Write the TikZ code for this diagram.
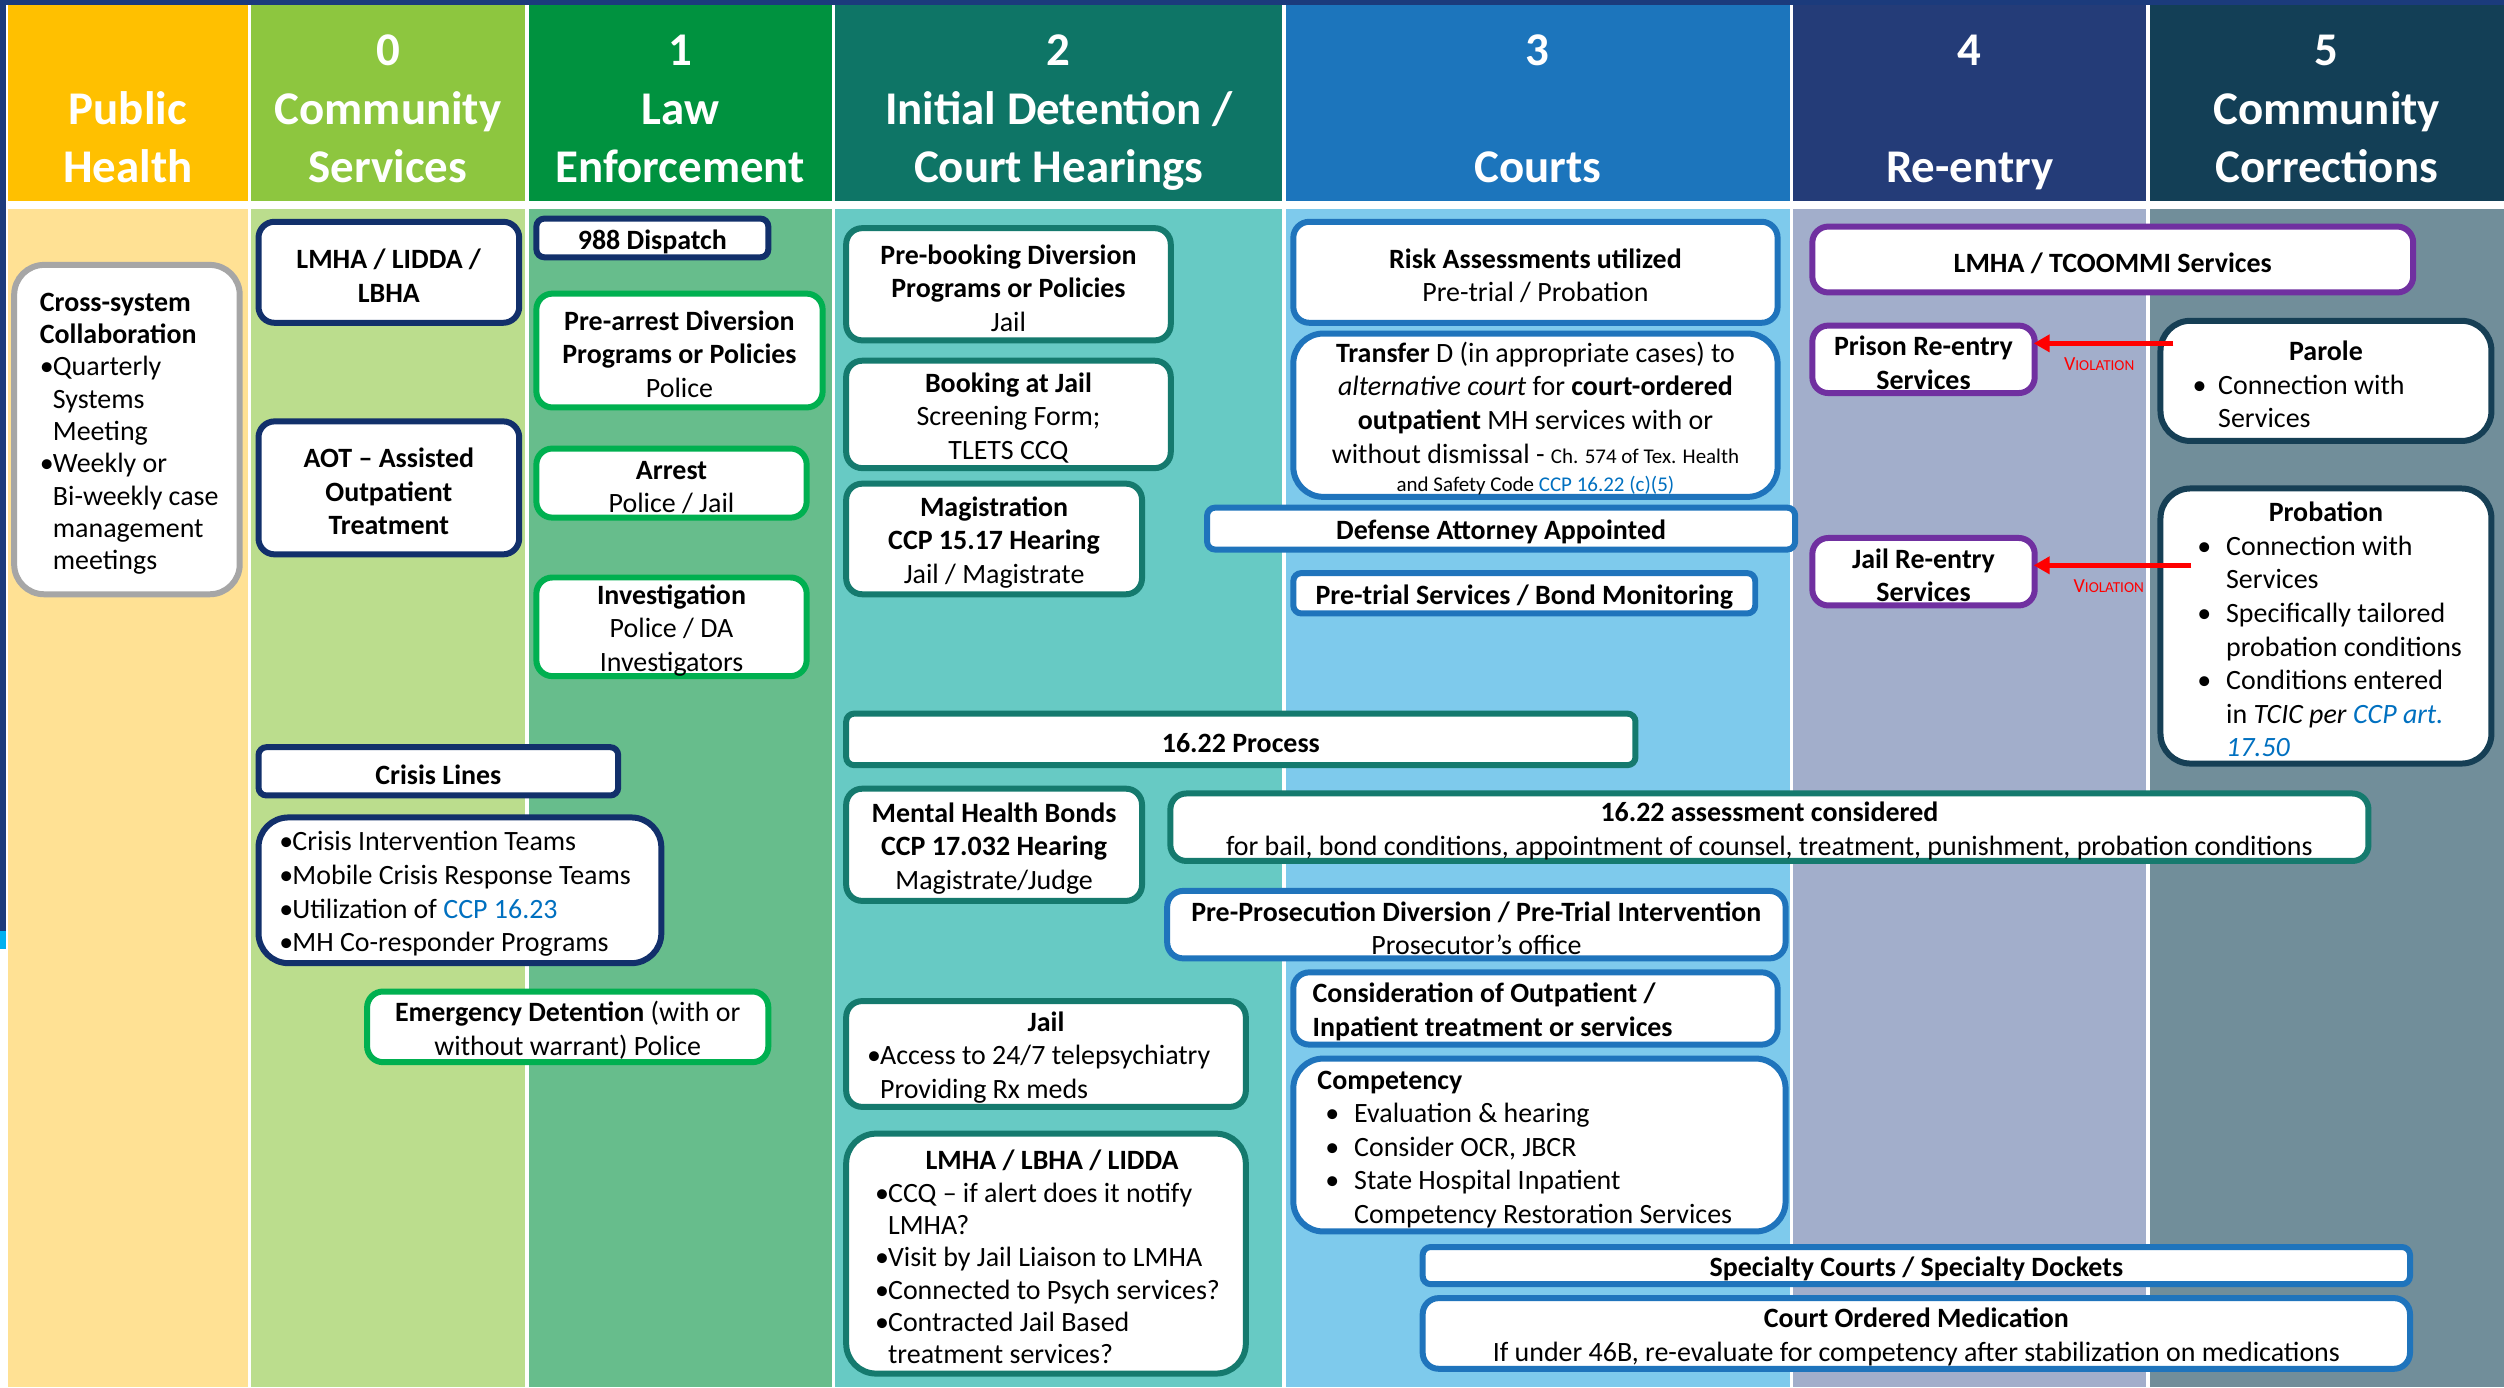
\documentclass[tikz,border=0pt]{standalone}
\usepackage{fontspec}
\setmainfont{Carlito}
\usetikzlibrary{arrows.meta}
\definecolor{hPH}{HTML}{FFC000}
\definecolor{hCa}{HTML}{8DC63F}
\definecolor{hCb}{HTML}{00923F}
\definecolor{hCc}{HTML}{0E7566}
\definecolor{hCd}{HTML}{1C75BC}
\definecolor{hCe}{HTML}{243C78}
\definecolor{hCf}{HTML}{133F56}
\definecolor{bPH}{HTML}{FFE194}
\definecolor{bCa}{HTML}{BBDD8D}
\definecolor{bCb}{HTML}{67BD8C}
\definecolor{bCc}{HTML}{67CAC4}
\definecolor{bCd}{HTML}{7ECAEC}
\definecolor{bCe}{HTML}{A2AECB}
\definecolor{bCf}{HTML}{718E9A}
\definecolor{eNavy}{HTML}{12306B}
\definecolor{eGreen}{HTML}{00B050}
\definecolor{eTeal}{HTML}{157A6E}
\definecolor{eBlue}{HTML}{1F74BC}
\definecolor{ePurple}{HTML}{7030A0}
\definecolor{eSlate}{HTML}{163F55}
\definecolor{eGray}{HTML}{A6A6A6}
\definecolor{linkc}{HTML}{0070C0}
\definecolor{topNavy}{HTML}{1B3B7C}
\definecolor{edgeBlue}{HTML}{00B0F0}
\newcommand\Ln[1]{\mbox{#1}}
\newcommand\bl[1]{\makebox[#1][l]{•}}
\newcommand\Ctr[1]{\makebox[\hsize][c]{#1}}
\newcommand\bx[7]{%
  \pgfmathsetmacro\bxW{(#4-#2)*0.8-3}%
  \pgfmathsetmacro\bxH{(#5-#3)*0.8-3}%
  \node[box,#6,minimum width=\bxW pt,minimum height=\bxH pt] (#1) at ({(#2+#4)/2},{(#3+#5)/2}) {\rule{0pt}{13.4pt}#7};}
\newcommand\bxl[8]{%
  \pgfmathsetmacro\bxW{(#4-#2)*0.8-3}%
  \pgfmathsetmacro\bxH{(#5-#3)*0.8-3}%
  \pgfmathsetmacro\bxT{(#4-#2-2*#7)*0.8}%
  \node[box,#6,align=flush left,text width=\bxT pt,minimum width=\bxW pt,minimum height=\bxH pt] (#1) at ({(#2+#4)/2},{(#3+#5)/2}) {\rule{0pt}{13.4pt}#8};}
\begin{document}
\begin{tikzpicture}[x=0.8pt,y=-0.8pt,
  box/.style={draw,fill=white,line width=3pt,inner sep=0pt,align=center,rounded corners=8pt,
    font=\fontsize{14}{16.8}\selectfont},
  rsmall/.style={rounded corners=4pt},
  rbig/.style={rounded corners=15pt},
  navyb/.style={draw=eNavy},
  greenb/.style={draw=eGreen},
  tealb/.style={draw=eTeal},
  blueb/.style={draw=eBlue},
  purpleb/.style={draw=ePurple},
  slateb/.style={draw=eSlate},
  grayb/.style={draw=eGray},
  tight/.style={font=\fontsize{14}{16.2}\selectfont},
  htext/.style={text=white,align=center,inner sep=0pt,font=\fontsize{23.5}{29.2}\selectfont\bfseries},
  viol/.style={draw=red,line width=2.2pt,-{Triangle[length=8pt,width=8.5pt]},shorten >=-2pt},
  violtext/.style={text=red,inner sep=0pt}]
\useasboundingbox (0,0) rectangle (1568,868.6);
\fill[white] (0,0) rectangle (1568,868.6);
% top and left edges
\fill[topNavy] (0,0) rectangle (1568,3);
\fill[topNavy] (0,0) rectangle (3.5,583);
\fill[edgeBlue] (0,583) rectangle (3.5,594);
% header fills
\fill[hPH] (5,3) rectangle (155,126);
\fill[hCa] (157,3) rectangle (329,126);
\fill[hCb] (331,3) rectangle (521,126);
\fill[hCc] (523,3) rectangle (803,126);
\fill[hCd] (805,3) rectangle (1121,126);
\fill[hCe] (1123,3) rectangle (1344,126);
\fill[hCf] (1346,3) rectangle (1568,126);
% body fills
\fill[bPH] (5,131) rectangle (155,868.6);
\fill[bCa] (157,131) rectangle (329,868.6);
\fill[bCb] (331,131) rectangle (521,868.6);
\fill[bCc] (523,131) rectangle (803,868.6);
\fill[bCd] (805,131) rectangle (1121,868.6);
\fill[bCe] (1123,131) rectangle (1344,868.6);
\fill[bCf] (1346,131) rectangle (1568,868.6);
% header texts
\node[htext] (hph) at (80,70.5) {\strut\\\strut Public\\\strut Health};
\node[htext] (hza) at (243,70.5) {\strut 0\\\strut Community\\\strut Services};
\node[htext] (hzb) at (426,70.5) {\strut 1\\\strut Law\\\strut Enforcement};
\node[htext] (hzc) at (663,70.5) {\strut 2\\\strut Initial Detention /\\\strut Court Hearings};
\node[htext] (hzd) at (963,70.5) {\strut 3\\\strut\\\strut Courts};
\node[htext] (hze) at (1233.5,70.5) {\strut 4\\\strut\\\strut Re-entry};
\node[htext] (hzf) at (1457,70.5) {\strut 5\\\strut Community\\\strut Corrections};
% Public Health
\bxl{cross}{7}{164}{152}{374}{grayb,rbig,tight}{18}{\Ln{\textbf{Cross-system}}\\\Ln{\textbf{Collaboration}}\\\Ln{\bl{6.5pt}Quarterly}\\\Ln{\hspace*{6.5pt}Systems}\\\Ln{\hspace*{6.5pt}Meeting}\\\Ln{\bl{6.5pt}Weekly or}\\\Ln{\hspace*{6.5pt}Bi-weekly case}\\\Ln{\hspace*{6.5pt}management}\\\Ln{\hspace*{6.5pt}meetings}}
% Column 0
\bx{lmhaz}{160}{137}{327}{204}{navyb}{\textbf{LMHA / LIDDA /}\\\textbf{LBHA}}
\bx{aot}{160}{262}{327}{349}{navyb}{\textbf{AOT – Assisted}\\\textbf{Outpatient}\\\textbf{Treatment}}
\bx{crisis}{160}{466}{389}{500}{navyb,rsmall}{\textbf{Crisis Lines}}
\bxl{crisislist}{160}{510}{416}{605}{navyb,rbig}{15}{\Ln{\bl{6.5pt}Crisis Intervention Teams}\\\Ln{\bl{6.5pt}Mobile Crisis Response Teams}\\\Ln{\bl{6.5pt}Utilization of \textcolor{linkc}{CCP 16.23}}\\\Ln{\bl{6.5pt}MH Co-responder Programs}}
% Column 1
\bx{dispatch}{334}{135}{483}{163}{navyb,rsmall}{\textbf{988 Dispatch}}
\bx{prearrest}{334}{182}{517}{257}{greenb}{\textbf{Pre-arrest Diversion}\\\textbf{Programs or Policies}\\Police}
\bx{arrest}{334}{279}{507}{326}{greenb}{\textbf{Arrest}\\Police / Jail}
\bx{invest}{334}{360}{507}{425}{greenb}{\textbf{Investigation}\\Police / DA\\Investigators}
\bx{emerg}{228}{619}{483}{667}{greenb}{\textbf{Emergency Detention} (with or\\without warrant) Police}
% Column 2
\bx{prebook}{528}{141}{735}{215}{tealb}{\textbf{Pre-booking Diversion}\\\textbf{Programs or Policies}\\Jail}
\bx{booking}{528}{224}{735}{295}{tealb}{\textbf{Booking at Jail}\\Screening Form;\\TLETS CCQ}
\bx{magis}{528}{301}{717}{374}{tealb}{\textbf{Magistration}\\\textbf{CCP 15.17 Hearing}\\Jail / Magistrate}
\bx{process}{528}{445}{1026}{481}{tealb,rsmall}{\textbf{16.22 Process}}
\bx{mhbonds}{528}{492}{717}{566}{tealb}{\textbf{Mental Health Bonds}\\\textbf{CCP 17.032 Hearing}\\Magistrate/Judge}
\bxl{jail}{528}{625}{782}{695}{tealb}{15}{\Ctr{\textbf{Jail}}\\\Ln{\bl{6.5pt}Access to 24/7 telepsychiatry}\\\Ln{\hspace*{6.5pt}Providing Rx meds}}
\bxl{lmhab}{528}{708}{782}{862}{tealb,rbig,tight}{20}{\Ctr{\hspace*{6pt}\textbf{LMHA / LBHA / LIDDA}}\\\Ln{\bl{6.5pt}CCQ – if alert does it notify}\\\Ln{\hspace*{6.5pt}LMHA?}\\\Ln{\bl{6.5pt}Visit by Jail Liaison to LMHA}\\\Ln{\bl{6.5pt}Connected to Psych services?}\\\Ln{\bl{6.5pt}Contracted Jail Based}\\\Ln{\hspace*{6.5pt}treatment services?}}
% Column 3
\bx{risk}{808}{137}{1115}{204}{blueb}{\textbf{Risk Assessments utilized}\\Pre-trial / Probation}
\bx{transfer}{808}{207}{1115}{313}{blueb,rbig}{\textbf{Transfer} D (in appropriate cases) to\\\textit{alternative court} for \textbf{court-ordered}\\\textbf{outpatient} MH services with or\\without dismissal - {\fontsize{10.5}{12}\selectfont Ch. 574 of Tex. Health}\\[-2.6pt]{\fontsize{10.5}{12}\selectfont and Safety Code \textcolor{linkc}{CCP 16.22 (c)(5)}}}
\bx{defense}{754}{316}{1126}{346}{blueb,rsmall}{\textbf{Defense Attorney Appointed}}
\bx{pretrial}{808}{357}{1101}{386}{blueb,rsmall}{\textbf{Pre-trial Services / Bond Monitoring}}
\bx{assess}{731}{495}{1485}{541}{tealb}{\textbf{16.22 assessment considered}\\for bail, bond conditions, appointment of counsel, treatment, punishment, probation conditions}
\bx{preprosec}{729}{556}{1120}{602}{blueb}{\textbf{Pre-Prosecution Diversion / Pre-Trial Intervention}\\Prosecutor’s office}
\bxl{consid}{808}{607}{1115}{656}{blueb}{14}{\Ln{\textbf{Consideration of Outpatient /}}\\\Ln{\textbf{Inpatient treatment or services}}}
\bxl{comp}{808}{661}{1120}{773}{blueb,rbig}{17}{\Ln{\textbf{Competency}}\\\Ln{\hspace*{4pt}\bl{14.4pt}Evaluation \& hearing}\\\Ln{\hspace*{4pt}\bl{14.4pt}Consider OCR, JBCR}\\\Ln{\hspace*{4pt}\bl{14.4pt}State Hospital Inpatient}\\\Ln{\hspace*{18.4pt}Competency Restoration Services}}
\bx{specialty}{889}{779}{1511}{806}{blueb,rsmall}{\textbf{Specialty Courts / Specialty Dockets}}
\bx{com}{889}{811}{1511}{859}{blueb}{\textbf{Court Ordered Medication}\\If under 46B, re-evaluate for competency after stabilization on medications}
% Column 4
\bx{tcoommi}{1133}{140}{1513}{185}{purpleb}{\textbf{LMHA / TCOOMMI Services}}
\bx{prison}{1133}{202}{1276}{248}{purpleb}{\textbf{Prison Re-entry}\\\textbf{Services}}
\bx{jailre}{1133}{335}{1276}{381}{purpleb}{\textbf{Jail Re-entry}\\\textbf{Services}}
% Column 5
\bxl{parole}{1351}{199}{1562}{278}{slateb,rbig}{22}{\Ctr{\textbf{Parole}}\\\Ln{\bl{12.8pt}Connection with}\\\Ln{\hspace*{12.8pt}Services}}
\bxl{probation}{1351}{304}{1562}{480}{slateb,rbig}{25}{\Ctr{\textbf{Probation}}\\\Ln{\bl{14.4pt}Connection with}\\\Ln{\hspace*{14.4pt}Services}\\\Ln{\bl{14.4pt}Specifically tailored}\\\Ln{\hspace*{14.4pt}probation conditions}\\\Ln{\bl{14.4pt}Conditions entered}\\\Ln{\hspace*{14.4pt}in \textit{TCIC per} \textcolor{linkc}{\textit{CCP art.}}}\\\Ln{\hspace*{14.4pt}\textcolor{linkc}{\textit{17.50}}}}
% violation arrows
\coordinate (va) at (1361,215);
\coordinate (vb) at (1372,354);
\draw[viol] (va) -- (va -| prison.east);
\draw[viol] (vb) -- (vb -| jailre.east);
\node[violtext] (vla) at (1314.5,228) {\fontsize{10}{12}\selectfont V\fontsize{7.6}{9}\selectfont IOLATION};
\node[violtext] (vlb) at (1320.5,367) {\fontsize{10}{12}\selectfont V\fontsize{7.6}{9}\selectfont IOLATION};
\end{tikzpicture}
\end{document}
